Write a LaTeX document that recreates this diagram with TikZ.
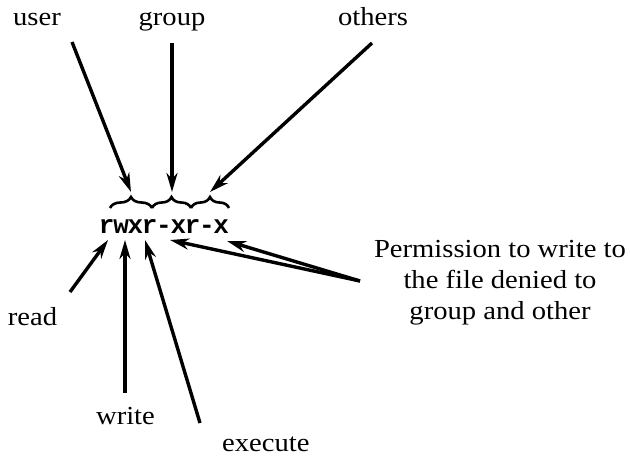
\documentclass[tikz,border=0pt]{standalone}
\usepackage{fontspec}
\setmainfont{Liberation Serif}[FakeStretch=1.1]
\newfontfamily\rwxfont{Liberation Mono}[LetterSpace=-5]
\usetikzlibrary{arrows.meta,decorations.pathreplacing}
\tikzset{
  lbl/.style={font=\fontsize{26}{31}\selectfont, inner sep=0pt, anchor=base},
  arr/.style={line width=3.4pt, -{Stealth[length=19pt,width=11pt,inset=6pt]}},
  brc/.style={decorate, decoration={brace, amplitude=11pt}, line width=2.6pt},
}
\begin{document}
\begin{tikzpicture}[x=1pt,y=-1pt]
\useasboundingbox (0,0) rectangle (630,458);
% labels
\node[lbl] (user) at (37,25) {user};
\node[lbl] (group) at (172,25) {group};
\node[lbl] (others) at (373,25) {others};
\node[lbl, font=\rwxfont\bfseries\fontsize{26}{31}\selectfont] (mode) at (164,233) {rwxr-xr-x};
\node[lbl] (read) at (32.5,325) {read};
\node[lbl] (write) at (125.5,424) {write};
\node[lbl, anchor=base west] (execute) at (222,451) {execute};
\node[lbl, align=center] (note) at (500,319) {Permission to write to\\the file denied to\\group and other};
% braces
\coordinate (b0) at (110,208);
\coordinate (b1) at (152,208);
\coordinate (b2) at (191,208);
\coordinate (b3) at (229,208);
\draw[brc] (b0) -- (b1);
\draw[brc] (b1) -- (b2);
\draw[brc] (b2) -- (b3);
% arrow ends
\coordinate (us) at (72,42);
\coordinate (ut) at (131,192);
\coordinate (gs) at (172,43);
\coordinate (gt) at (172,192);
\coordinate (os) at (372,43);
\coordinate (ot) at (210,192);
\coordinate (rs) at (70,292);
\coordinate (rt) at (108,240);
\coordinate (ws) at (125,393);
\coordinate (wt) at (125,240);
\coordinate (es) at (200,423);
\coordinate (et) at (145,240);
\coordinate (ps) at (360,281);
\coordinate (pt1) at (170,240);
\coordinate (pt2) at (227,241);
\draw[arr] (us) -- (ut);
\draw[arr] (gs) -- (gt);
\draw[arr] (os) -- (ot);
\draw[arr] (rs) -- (rt);
\draw[arr] (ws) -- (wt);
\draw[arr] (es) -- (et);
\draw[arr] (ps) -- (pt1);
\draw[arr] (ps) -- (pt2);
\end{tikzpicture}
\end{document}
